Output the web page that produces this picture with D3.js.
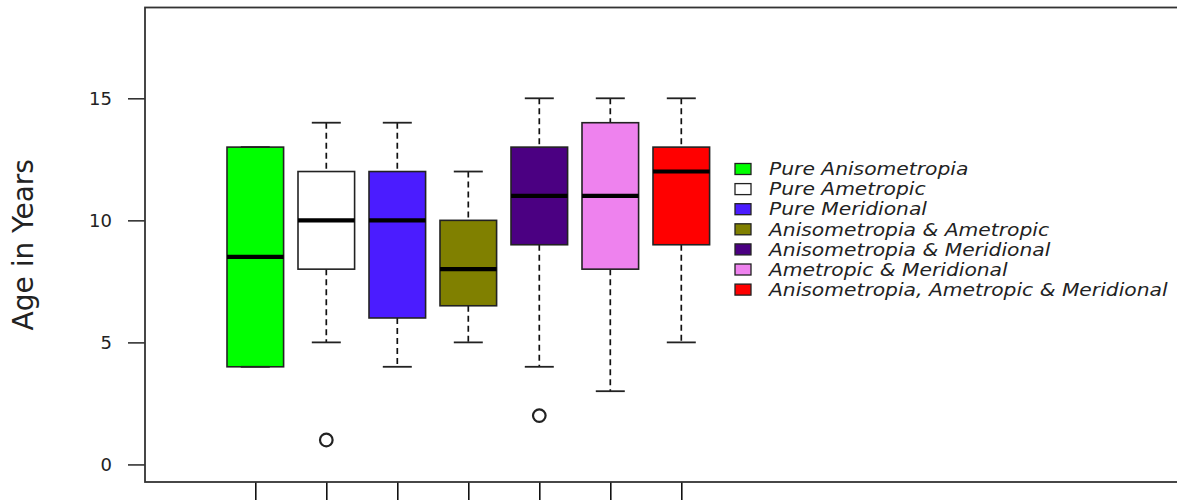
<!DOCTYPE html>
<html>
<head>
<meta charset="utf-8">
<script src="https://cdn.jsdelivr.net/npm/d3@7"></script>
<style>
  body { margin: 0; background: #fff; }
  svg { display: block; font-family: "DejaVu Sans", sans-serif; }
</style>
</head>
<body>
<div id="chart"></div>
<script>
// groups, in drawing order
var groups = ["Pure Anisometropia", "Pure Ametropic", "Pure Meridional",
  "Anisometropia & Ametropic", "Anisometropia & Meridional",
  "Ametropic & Meridional", "Anisometropia, Ametropic & Meridional"];
var colors = ["#00FF00", "#FFFFFF", "#4B1CFF", "#808000", "#4B0082", "#EE82EE", "#FF0000"];

// five-number summaries
var lowWhisker = [4, 5, 4, 5, 4, 3, 5];
var q1 = [4, 8, 6, 6.5, 9, 8, 9];
var medians = [8.5, 10, 10, 8, 11, 11, 12];
var q3 = [13, 12, 12, 10, 13, 14, 13];
var highWhisker = [13, 14, 14, 12, 15, 15, 15];
var outliers = [[], [1], [], [], [2], [], []];

var yTicks = [0, 5, 10, 15];

var width = 1177, height = 500;
var plot = { left: 145, top: 7.5, right: 1200, bottom: 482 };

var svg = d3.select("#chart").append("svg")
  .attr("width", width)
  .attr("height", height);

var y = d3.scaleLinear().domain([-0.72, 18.72]).range([plot.bottom, plot.top]);
var x = d3.scalePoint().domain(groups).range([255.3, 681.3]);

var boxW = 56.6, capW = 29;

var data = groups.map(function(g, i) {
  return { name: g, color: colors[i], lo: lowWhisker[i], q1: q1[i], med: medians[i],
    q3: q3[i], hi: highWhisker[i], out: outliers[i] };
});

// y axis
var yAxis = d3.axisLeft(y).tickValues(yTicks).tickSize(17).tickPadding(16);
var ga = svg.append("g")
  .attr("transform", "translate(" + plot.left + ",0)")
  .call(yAxis);
ga.select(".domain").remove();
ga.selectAll("line").attr("stroke", "#333").attr("stroke-width", 1.6);
ga.selectAll("text").attr("font-size", 18).attr("fill", "#222")
  .attr("font-family", "DejaVu Sans, sans-serif");

// x axis ticks (labels fall outside the picture)
var gx = svg.append("g")
  .attr("transform", "translate(0," + plot.bottom + ")")
  .call(d3.axisBottom(x).tickSize(25).tickFormat(""));
gx.select(".domain").remove();
gx.selectAll("line").attr("stroke", "#111").attr("stroke-width", 1.6);

// frame
svg.append("rect")
  .attr("x", plot.left).attr("y", plot.top)
  .attr("width", plot.right - plot.left).attr("height", plot.bottom - plot.top)
  .attr("fill", "none").attr("stroke", "#333").attr("stroke-width", 1.8);

svg.append("text")
  .attr("transform", "translate(33," + ((plot.top + plot.bottom) / 2) + ") rotate(-90)")
  .attr("text-anchor", "middle")
  .attr("font-size", 28)
  .attr("fill", "#222")
  .text("Age in Years");

var box = svg.selectAll(".box").data(data).enter().append("g").attr("class", "box");

// whiskers
box.append("line")
  .attr("x1", function(d) { return x(d.name); }).attr("x2", function(d) { return x(d.name); })
  .attr("y1", function(d) { return y(d.hi); }).attr("y2", function(d) { return y(d.q3); })
  .attr("stroke", "#111").attr("stroke-width", 1.7).attr("stroke-dasharray", "6,4");
box.append("line")
  .attr("x1", function(d) { return x(d.name); }).attr("x2", function(d) { return x(d.name); })
  .attr("y1", function(d) { return y(d.q1); }).attr("y2", function(d) { return y(d.lo); })
  .attr("stroke", "#111").attr("stroke-width", 1.7).attr("stroke-dasharray", "6,4");

box.append("rect")
  .attr("x", function(d) { return x(d.name) - boxW / 2; })
  .attr("width", boxW)
  .attr("y", function(d) { return y(d.q3); })
  .attr("height", function(d) { return y(d.q1) - y(d.q3); })
  .attr("fill", function(d) { return d.color; })
  .attr("stroke", "#222").attr("stroke-width", 1.6);

// caps
["hi", "lo"].forEach(function(k) {
  box.append("line")
    .attr("x1", function(d) { return x(d.name) - capW / 2; })
    .attr("x2", function(d) { return x(d.name) + capW / 2; })
    .attr("y1", function(d) { return y(d[k]); })
    .attr("y2", function(d) { return y(d[k]); })
    .attr("stroke", "#222").attr("stroke-width", 1.8);
});

// medians
box.append("line")
  .attr("x1", function(d) { return x(d.name) - boxW / 2; })
  .attr("x2", function(d) { return x(d.name) + boxW / 2; })
  .attr("y1", function(d) { return y(d.med); })
  .attr("y2", function(d) { return y(d.med); })
  .attr("stroke", "#000").attr("stroke-width", 4.2);

// outliers
box.selectAll("circle")
  .data(function(d) { return d.out.map(function(v) { return { name: d.name, v: v }; }); })
  .enter().append("circle")
  .attr("cx", function(d) { return x(d.name); })
  .attr("cy", function(d) { return y(d.v); })
  .attr("r", 6.3)
  .attr("fill", "none").attr("stroke", "#222").attr("stroke-width", 2.2);

// legend
var leg = svg.append("g").attr("transform", "translate(735,169)");
var row = leg.selectAll("g").data(data).enter().append("g")
  .attr("transform", function(d, i) { return "translate(0," + (i * 20.1) + ")"; });
row.append("rect")
  .attr("x", 0).attr("y", -5.5).attr("width", 16).attr("height", 11)
  .attr("fill", function(d) { return d.color; })
  .attr("stroke", "#222").attr("stroke-width", 1.3);
row.append("text")
  .attr("transform", "translate(34,0) scale(1.165,1)")
  .attr("dy", "0.36em")
  .attr("font-size", 17.4)
  .attr("font-style", "italic")
  .attr("fill", "#222")
  .text(function(d) { return d.name; });
</script>
</body>
</html>
